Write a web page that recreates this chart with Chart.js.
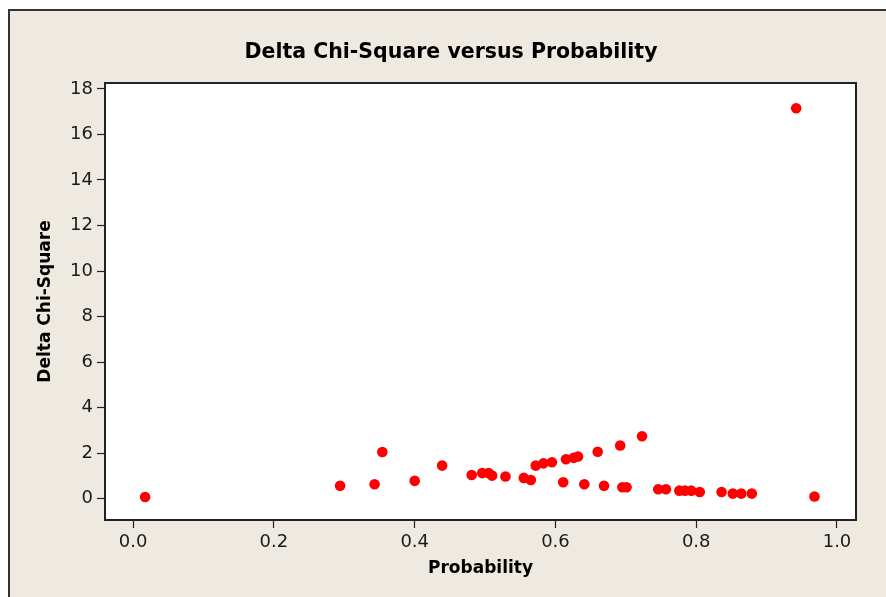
<!DOCTYPE html>
<html>
<head>
<meta charset="utf-8">
<script src="https://cdn.jsdelivr.net/npm/chart.js@4.4.0/dist/chart.umd.min.js"></script>
<style>
  html, body { margin: 0; padding: 0; background: #fff; }
  #wrap { width: 886px; height: 597px; }
</style>
</head>
<body>
<div id="wrap"><canvas id="chart" width="886" height="597"></canvas></div>
<script>
// values
const probability = [
    0.017, 0.294, 0.343, 0.354, 0.400, 0.439, 0.481, 0.496, 0.505, 0.510,
    0.529, 0.555, 0.565, 0.572, 0.583, 0.595, 0.611, 0.615, 0.626, 0.632,
    0.641, 0.660, 0.669, 0.692, 0.695, 0.701, 0.723, 0.746, 0.757, 0.776,
    0.784, 0.793, 0.805, 0.836, 0.852, 0.864, 0.879, 0.942, 0.968
];
const deltaChiSquare = [
    0.07, 0.56, 0.63, 2.05, 0.78, 1.45, 1.04, 1.12, 1.12, 1.01,
    0.97, 0.91, 0.82, 1.45, 1.55, 1.60, 0.72, 1.73, 1.79, 1.85,
    0.63, 2.06, 0.56, 2.33, 0.50, 0.50, 2.74, 0.41, 0.41, 0.35,
    0.35, 0.35, 0.29, 0.29, 0.22, 0.22, 0.22, 17.15, 0.09
];
const xTicks = [0, 0.2, 0.4, 0.6, 0.8, 1.0];
const yTicks = [0, 2, 4, 6, 8, 10, 12, 14, 16, 18];

const chartTitle = 'Delta Chi-Square versus Probability';
const xTitle = 'Probability';
const yTitle = 'Delta Chi-Square';

const points = probability.map((p, i) => ({ x: p, y: deltaChiSquare[i] }));

// Minitab style background, frame and white plot box
const frame = {
    id: 'frame',
    beforeDraw(chart) {
        const ctx = chart.ctx;
        const a = chart.chartArea;
        ctx.save();
        ctx.fillStyle = '#ffffff';
        ctx.fillRect(0, 0, chart.width, chart.height);
        ctx.fillStyle = '#eeeae1';
        ctx.fillRect(9, 10, chart.width, chart.height);
        ctx.strokeStyle = '#333333';
        ctx.lineWidth = 2;
        ctx.beginPath();
        ctx.moveTo(9, chart.height);
        ctx.lineTo(9, 10);
        ctx.lineTo(chart.width, 10);
        ctx.stroke();
        ctx.fillStyle = '#ffffff';
        ctx.fillRect(a.left, a.top, a.right - a.left, a.bottom - a.top);
        ctx.restore();
    },
    afterDraw(chart) {
        const ctx = chart.ctx;
        const a = chart.chartArea;
        ctx.save();
        ctx.strokeStyle = '#222222';
        ctx.lineWidth = 2;
        ctx.strokeRect(a.left, a.top, a.right - a.left, a.bottom - a.top);
        ctx.restore();
    }
};

const tickFont = { family: 'DejaVu Sans', size: 18 };
const titleFont = { family: 'DejaVu Sans', size: 20.5, weight: 'bold' };
const labelFont = { family: 'DejaVu Sans', size: 17, weight: 'bold' };

new Chart(document.getElementById('chart'), {
    type: 'scatter',
    data: {
        datasets: [{
            data: points,
            backgroundColor: '#ff0000',
            borderColor: '#ff0000',
            borderWidth: 0,
            pointRadius: 5.3
        }]
    },
    options: {
        responsive: false,
        animation: false,
        events: [],
        layout: { padding: { left: 16, right: 0, top: 0, bottom: 0 } },
        plugins: {
            legend: { display: false },
            tooltip: { enabled: false },
            title: {
                display: true,
                text: chartTitle,
                color: '#000000',
                font: titleFont,
                padding: { top: 40.3, bottom: 18.1 }
            }
        },
        scales: {
            x: {
                type: 'linear',
                min: -0.04,
                max: 1.027,
                afterBuildTicks: s => { s.ticks = xTicks.map(v => ({ value: v })); },
                afterFit: s => { s.height = 77; },
                border: { display: false },
                grid: { drawOnChartArea: false, drawTicks: true, tickLength: 8, tickColor: '#222222', tickWidth: 1.2 },
                ticks: {
                    color: '#1a1a1a',
                    font: tickFont,
                    padding: 4,
                    maxRotation: 0,
                    callback: v => v.toFixed(1)
                },
                title: { display: true, text: xTitle, color: '#000000', font: labelFont, padding: { top: 0, bottom: 18.6 } }
            },
            y: {
                type: 'linear',
                min: -0.94,
                max: 18.26,
                afterBuildTicks: s => { s.ticks = yTicks.map(v => ({ value: v })); },
                afterFit: s => { s.width = 89; },
                border: { display: false },
                grid: { drawOnChartArea: false, drawTicks: true, tickLength: 8, tickColor: '#222222', tickWidth: 1.2 },
                ticks: {
                    color: '#1a1a1a',
                    font: tickFont,
                    padding: 4,
                    callback: v => String(v)
                },
                title: { display: true, text: yTitle, color: '#000000', font: labelFont, padding: { top: 19.6 } }
            },
            yRight: {
                type: 'linear',
                position: 'right',
                display: true,
                afterFit: s => { s.width = 30; },
                border: { display: false },
                grid: { display: false },
                ticks: { display: false }
            }
        }
    },
    plugins: [frame]
});
</script>
</body>
</html>
